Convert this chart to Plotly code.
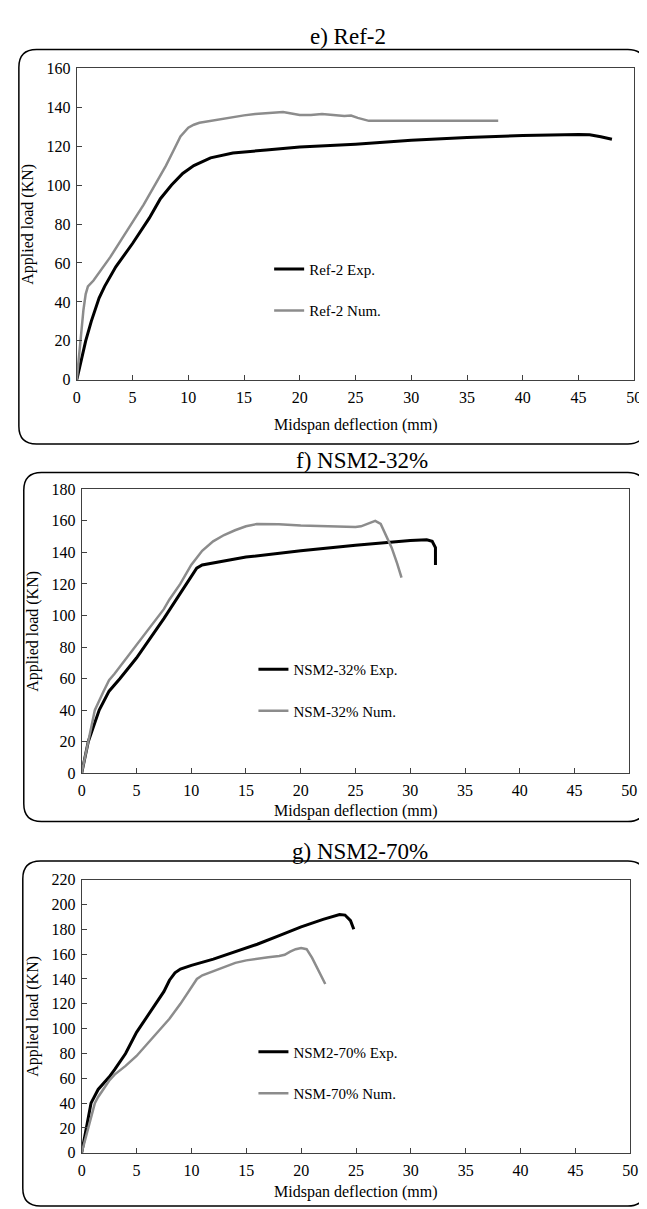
import plotly.graph_objects as go

W, H = 647, 1209

# ---------------- data ----------------
ref2_exp_x = [0, 0.3, 0.8, 1.3, 2.0, 2.5, 3.5, 5.0, 6.5, 7.5, 8.5, 9.5, 10.5, 12, 14, 17, 20, 25, 30, 35, 40, 45, 46, 47, 48]
ref2_exp_y = [0, 8, 20, 30, 42, 48, 58, 70, 83, 93, 100, 106, 110, 114, 116.5, 118, 119.5, 121, 123, 124.5, 125.5, 126, 125.8, 124.8, 123.5]
ref2_num_x = [0, 0.2, 0.4, 0.6, 0.8, 1.0, 1.5, 2, 3, 4, 5, 6, 7, 8, 8.7, 9.3, 10, 10.5, 11, 12, 13, 14, 15, 16, 17, 18, 18.5, 19, 20, 21, 22, 23, 24, 24.6, 25.2, 26.2, 27, 30, 35, 37.8]
ref2_num_y = [0, 12, 25, 36, 44, 48, 51, 55, 63, 72, 81, 90, 100, 110, 118, 125, 129.5, 131, 132, 133, 134, 135, 135.8, 136.5, 137, 137.5, 137.5, 137, 136, 136, 136.5, 136, 135.5, 135.7, 134.5, 133, 133, 133, 133, 133]

nsm32_exp_x = [0, 0.6, 1.6, 2.5, 3.5, 5, 7.5, 10, 10.5, 11, 15, 20, 25, 30, 31.5, 32, 32.3, 32.3]
nsm32_exp_y = [0, 20, 40, 52, 60, 73, 98, 124, 130, 132, 137, 141, 144.5, 147.5, 148, 147, 143, 132]
nsm32_num_x = [0, 0.6, 1.2, 2, 2.5, 3, 4, 5, 7.5, 8, 9, 10, 11, 12, 13, 14, 15, 16, 17, 18, 20, 22, 24, 25, 25.5, 26, 26.8, 27.3, 27.8, 28.3, 28.8, 29.2]
nsm32_num_y = [0, 20, 40, 52, 59, 63, 72, 81, 104, 110, 120, 132, 141, 147, 151, 154, 156.5, 158, 158, 157.8, 157, 156.5, 156, 156, 156.5, 158, 160, 158, 151, 143, 133, 124]

nsm70_exp_x = [0, 0.5, 0.85, 1.5, 2, 2.5, 3, 3.5, 4, 5, 6, 7, 7.5, 8, 8.5, 9, 10, 12, 14, 16, 18, 20, 22, 23, 23.5, 24, 24.5, 24.8]
nsm70_exp_y = [0, 24, 40, 51, 56, 61, 67, 74, 80, 97, 110, 123, 130, 139, 145, 148, 151, 156, 162, 168, 175, 182, 188, 191, 192, 191.5, 187, 180]
nsm70_num_x = [0, 0.5, 1.2, 1.5, 2, 2.5, 3, 4, 5, 6, 7, 8, 9, 10, 10.5, 11, 12, 13, 14, 15, 16, 17, 18, 18.5, 19, 19.5, 20, 20.5, 21, 21.5, 22.2]
nsm70_num_y = [0, 16, 40, 45, 52, 58, 63, 70, 78, 88, 98, 108, 120, 133, 140, 143, 146.5, 150, 153, 155, 156.5, 157.5, 158.5, 159.5, 162, 164, 165, 164, 157, 148, 136]

x_ticks = [0, 5, 10, 15, 20, 25, 30, 35, 40, 45, 50]
titles = ["e) Ref-2", "f) NSM2-32%", "g) NSM2-70%"]
names = [("Ref-2 Exp.", "Ref-2 Num."), ("NSM2-32% Exp.", "NSM-32% Num."), ("NSM2-70% Exp.", "NSM-70% Num.")]
y_max = [160, 180, 220]
x_label = "Midspan deflection (mm)"
y_label = "Applied load (KN)"

# ---------------- layout helpers (pixel -> paper) ----------------
def px(p):
    return p / W

def py(p):
    return 1 - p / H

FONT = "Liberation Serif, Times New Roman, serif"
BLACK = "#000000"
GRAY = "#8c8c8c"

# plot areas in pixels: (left, right, top, bottom)
areas = [(66, 634, 53, 369), (71, 629, 480, 768), (71, 630, 876, 1153)]
boxes = [(7, 645.5, 34, 434), (12, 645.5, 463, 817), (11, 645.5, 857, 1207)]
title_pos = [(342, 21), (357, 451), (355, 847)]
xtitle_y = [415, 806, 1193]
ytitle_x = [16, 22, 22]
legend_pos = [(262, 240), (246, 646), (246, 1034)]

series = [
    (ref2_exp_x, ref2_exp_y, ref2_num_x, ref2_num_y),
    (nsm32_exp_x, nsm32_exp_y, nsm32_num_x, nsm32_num_y),
    (nsm70_exp_x, nsm70_exp_y, nsm70_num_x, nsm70_num_y),
]

fig = go.Figure()
layout = dict(
    width=W, height=H, autosize=False,
    margin=dict(l=0, r=0, t=0, b=0),
    paper_bgcolor="white", plot_bgcolor="white",
    font=dict(family=FONT, size=15, color=BLACK),
    shapes=[], annotations=[],
)

for i in range(3):
    sfx = "" if i == 0 else str(i + 1)
    xa, ya = "x" + sfx, "y" + sfx
    leg = "legend" + sfx
    ex, ey, nx, ny = series[i]
    fig.add_trace(go.Scatter(x=ex, y=ey, mode="lines", name=names[i][0],
                             line=dict(color=BLACK, width=3), xaxis=xa, yaxis=ya,
                             legend=leg, legendgroup="e" + str(i)))
    fig.add_trace(go.Scatter(x=nx, y=ny, mode="lines", name=names[i][1],
                             line=dict(color=GRAY, width=2.5), xaxis=xa, yaxis=ya,
                             legend=leg, legendgroup="n" + str(i)))
    l, r, t, b = areas[i]
    axis_common = dict(showline=True, mirror=True, linecolor="#404040", linewidth=1,
                       showgrid=False, zeroline=False, ticks="inside", ticklen=5,
                       tickcolor="#404040", tickfont=dict(family=FONT, size=16, color=BLACK))
    layout["xaxis" + sfx] = dict(domain=[px(l), px(r)], range=[0, 50], tickvals=x_ticks,
                                  anchor=ya, ticklabelstandoff=3, **axis_common)
    layout["yaxis" + sfx] = dict(domain=[py(b), py(t)], range=[0, y_max[i]], dtick=20,
                                  anchor=xa, ticklabelstandoff=2, **axis_common)
    lx, ly = legend_pos[i]
    layout[leg] = dict(x=px(lx), y=py(ly), xanchor="left", yanchor="top",
                       bgcolor="rgba(0,0,0,0)", tracegroupgap=19,
                       font=dict(family=FONT, size=15, color=BLACK))
    # rounded panel box
    bl, br, bt, bb = boxes[i]
    rr = 18
    path = (f"M {px(bl+rr)},{py(bt)} L {px(br-rr)},{py(bt)} Q {px(br)},{py(bt)} {px(br)},{py(bt+rr)} "
            f"L {px(br)},{py(bb-rr)} Q {px(br)},{py(bb)} {px(br-rr)},{py(bb)} "
            f"L {px(bl+rr)},{py(bb)} Q {px(bl)},{py(bb)} {px(bl)},{py(bb-rr)} "
            f"L {px(bl)},{py(bt+rr)} Q {px(bl)},{py(bt)} {px(bl+rr)},{py(bt)} Z")
    layout["shapes"].append(dict(type="path", xref="paper", yref="paper", path=path,
                                 line=dict(color=BLACK, width=1.5), layer="below"))
    tx, ty = title_pos[i]
    layout["annotations"].append(dict(text=titles[i], x=px(tx), y=py(ty), xref="paper", yref="paper",
                                      showarrow=False, xanchor="center", yanchor="middle",
                                      font=dict(family=FONT, size=23, color=BLACK)))
    layout["annotations"].append(dict(text=x_label, x=px((l + r) / 2), y=py(xtitle_y[i]), xref="paper",
                                      yref="paper", showarrow=False, xanchor="center", yanchor="middle",
                                      font=dict(family=FONT, size=16, color=BLACK)))
    layout["annotations"].append(dict(text=y_label, x=px(ytitle_x[i]), y=py((t + b) / 2), xref="paper",
                                      yref="paper", showarrow=False, xanchor="center", yanchor="middle",
                                      textangle=-90, font=dict(family=FONT, size=16, color=BLACK)))

fig.update_layout(**layout)
fig.write_html("out.html")
